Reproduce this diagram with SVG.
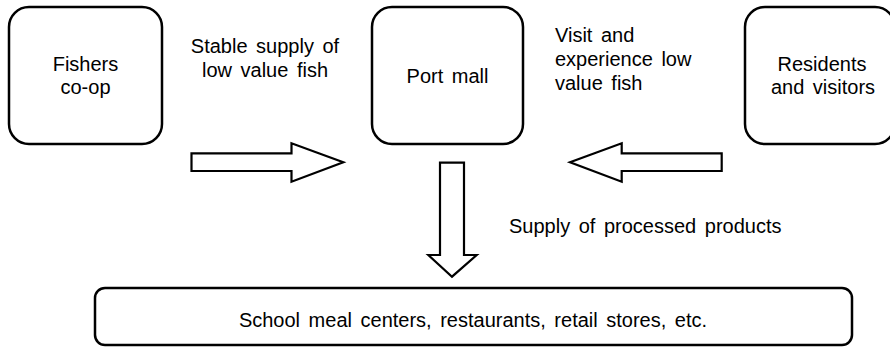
<svg xmlns="http://www.w3.org/2000/svg" width="890" height="347" viewBox="0 0 890 347">
<style>
.box{fill:#fff;stroke:#000;stroke-width:2.5}
.arrow{fill:#fff;stroke:#000;stroke-width:2.2;stroke-linejoin:miter}
text{font-family:"Liberation Sans",Arial,sans-serif;font-size:20px;fill:#000;word-spacing:3px}
.c{text-anchor:middle}
</style>
<rect width="890" height="347" fill="#fff"/>
<g id="fishers">
<rect class="box" x="9" y="7" width="153" height="137" rx="20"/>
<text class="c" x="85.5" y="71">Fishers</text>
<text class="c" x="85.5" y="94">co-op</text>
</g>
<g id="portmall">
<rect class="box" x="372" y="7" width="151" height="137" rx="20"/>
<text class="c" x="447.5" y="83">Port mall</text>
</g>
<g id="residents">
<rect class="box" x="745" y="7" width="150" height="137" rx="20"/>
<text class="c" x="822" y="71">Residents</text>
<text class="c" x="823" y="94">and visitors</text>
</g>
<g id="consumers">
<rect class="box" x="95" y="288" width="757" height="57" rx="10"/>
<text class="c" x="473" y="327">School meal centers, restaurants, retail stores, etc.</text>
</g>
<g id="connectors">
<polygon class="arrow" points="191.5,153.3 291.5,153.3 291.5,143.3 343.3,162.3 291.5,181.7 291.5,171 191.5,171"/>
<polygon class="arrow" points="721.7,153.3 621.7,153.3 621.7,143.3 570,162.3 621.7,181.7 621.7,171 721.7,171"/>
<polygon class="arrow" points="440,162.7 464,162.7 464,255 476.7,255 452,276.7 428.3,255 440,255"/>
<text class="c" x="265" y="53">Stable supply of</text>
<text class="c" x="265" y="77">low value fish</text>
<text x="555" y="42">Visit and</text>
<text x="555" y="66">experience low</text>
<text x="555" y="89.5">value fish</text>
<text x="509" y="233">Supply of processed products</text>
</g>
</svg>
